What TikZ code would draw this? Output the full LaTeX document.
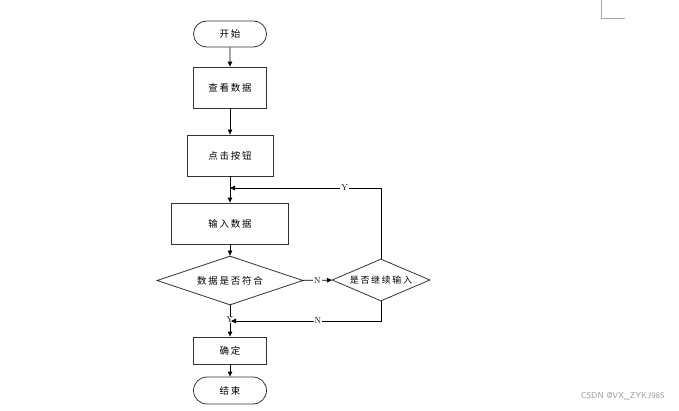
\documentclass[tikz,border=0pt]{standalone}
\usepackage{fontspec}
\newfontfamily\cjk[LetterSpace=18]{Noto Sans CJK SC}
\usetikzlibrary{arrows.meta,shapes.geometric,shapes.misc}
\begin{document}
\begin{tikzpicture}[x=1pt,y=-1pt,
  base/.style={draw=black!80,line width=0.8pt,inner sep=0pt,font=\cjk\fontsize{9.5}{11}\selectfont},
  term/.style={base,rounded rectangle,minimum width=73pt,minimum height=26pt},
  proc/.style={base,rectangle,minimum height=41pt},
  dec/.style={base,diamond,aspect=3},
  arr/.style={-{Triangle[length=5pt,width=4.5pt]},line width=0.8pt,black},
  lab/.style={font=\fontsize{8.5}{9}\selectfont,inner sep=1pt,fill=white}]
\useasboundingbox (0,0) rectangle (679,411);
\node[term] (start) at (230,34) {开始};
\node[proc,minimum width=73pt] (view) at (230,87.5) {查看数据};
\node[proc,minimum width=86pt] (click) at (230,155.5) {点击按钮};
\node[proc,minimum width=117pt] (input) at (230,223.5) {输入数据};
\node[dec,minimum width=146pt,minimum height=49pt] (check) at (230,280.5) {数据是否符合};
\node[dec,minimum width=98pt,minimum height=42pt,font=\cjk\fontsize{9}{11}\selectfont] (cont) at (381,280) {是否继续输入};
\node[proc,minimum width=73pt,minimum height=27pt] (ok) at (230,350.5) {确定};
\node[term,minimum height=27pt] (end) at (230,390.5) {结束};
\coordinate (loopin) at (230,188);
\coordinate (backin) at (231,321);
\draw[arr] (start) -- (view);
\draw[arr] (view) -- (click);
\draw[arr] (click) -- (input);
\draw[arr] (input) -- (check);
\draw[arr] (check) -- node[lab]{N} (cont);
\draw[arr] (cont.north) |- node[lab,pos=0.62]{Y} (loopin);
\draw[arr] (check) -- (ok);
\node[lab,inner sep=0.3pt] (ylab) at (230,320) {Y};
\draw[arr] (cont.south) |- node[lab,pos=0.71]{N} (backin);
\draw[arr] (ok) -- (end);
\draw[black!35,line width=0.6pt] (601,0) -- (601,18) -- (625,18);
\node[text=black!40,font=\sffamily\fontsize{8.5}{9}\selectfont,anchor=east] (wm) at (668,396) {CSDN @VX\_ZYKJ985};
\end{tikzpicture}
\end{document}
